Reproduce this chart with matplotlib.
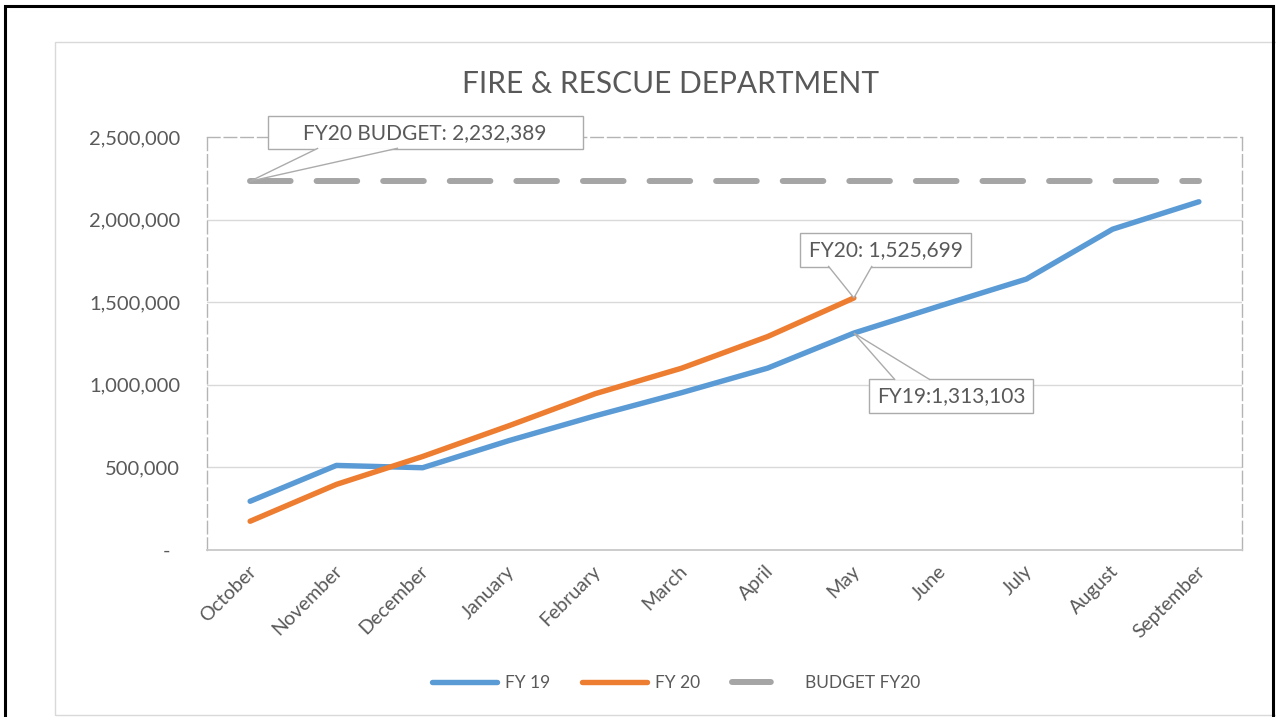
import matplotlib
matplotlib.use('Agg')
import matplotlib.pyplot as plt
from matplotlib.patches import Rectangle, Polygon
from matplotlib.lines import Line2D
from matplotlib import transforms as mtransforms
from matplotlib.ticker import FuncFormatter

# ---------------- data ----------------
months = ['October', 'November', 'December', 'January', 'February', 'March',
          'April', 'May', 'June', 'July', 'August', 'September']
fy19 = [295000, 512000, 498000, 662000, 812000, 952000,
        1101000, 1313103, 1478000, 1640000, 1942000, 2108000]
fy20 = [174000, 397000, 566000, 752000, 946000, 1100000, 1292000, 1525699]
budget_fy20 = 2232389
yticks = [0, 500000, 1000000, 1500000, 2000000, 2500000]
title = 'FIRE & RESCUE DEPARTMENT'
legend_labels = ['FY 19', 'FY 20', 'BUDGET FY20']
label_budget = 'FY20 BUDGET: 2,232,389'
label_fy20 = 'FY20: 1,525,699'
label_fy19 = 'FY19:1,313,103'

# ---------------- style ----------------
BLUE = '#5B9BD5'
ORANGE = '#ED7D31'
GRAY = '#A5A5A5'
TXT = '#595959'
GRID = '#D9D9D9'
EDGE = '#ABABAB'

plt.rcParams['font.family'] = ['Lato', 'DejaVu Sans']

W, H = 1276, 717
fig = plt.figure(figsize=(W / 100, H / 100), dpi=100)
fig.patch.set_facecolor('white')

# outer frames
fig.patches.append(Rectangle((55 / W, 2 / H), (1300 - 55) / W, (715 - 42) / H,
                             transform=fig.transFigure, fill=False,
                             ec=GRID, lw=1.0, zorder=0))
fig.patches.append(Rectangle((5 / W, -0.03), (1273 - 5) / W, 1 - 6 / H + 0.03,
                             transform=fig.transFigure, fill=False,
                             ec='black', lw=2.2, zorder=10))

ax = fig.add_axes([207 / W, 1 - 550 / H, (1242 - 207) / W, (550 - 137) / H])
x = list(range(len(months)))

# gridlines (not at top, where the dashed border sits)
for yv in yticks[1:-1]:
    ax.axhline(yv, color=GRID, lw=1.0, zorder=1)

ax.plot(x, fy19, color=BLUE, lw=3.9, solid_capstyle='round',
        solid_joinstyle='round', zorder=3)
ax.plot(x[:len(fy20)], fy20, color=ORANGE, lw=3.9, solid_capstyle='round',
        solid_joinstyle='round', zorder=4)
bl, = ax.plot(x, [budget_fy20] * len(months), color=GRAY, lw=4.3,
              dash_capstyle='round', zorder=2)
bl.set_dashes((6.8, 4.35))

ax.set_xlim(-0.5, len(months) - 0.5)
ax.set_ylim(yticks[0], yticks[-1])
ax.set_yticks(yticks)
ax.yaxis.set_major_formatter(FuncFormatter(lambda v, p: '-' if v == 0 else f'{int(v):,}'))
ax.set_xticks(x)
ax.set_xticklabels(months, rotation=45, ha='right', va='top', rotation_mode='anchor')
ax.tick_params(axis='y', length=0, pad=19.4, labelsize=14.5, labelcolor=TXT)
ax.tick_params(axis='x', length=0, pad=9, labelsize=14, labelcolor=TXT)
for lbl in ax.get_xticklabels():
    lbl.set_transform(lbl.get_transform() +
                      mtransforms.ScaledTranslation(-3 / 100, 0, fig.dpi_scale_trans))

# shift the "-" label like the accounting format
t0 = ax.yaxis.get_major_ticks()[0]
t0.label1.set_transform(t0.label1.get_transform() +
                        mtransforms.ScaledTranslation(-10 / 100, 0, fig.dpi_scale_trans))

for s in ['left', 'top', 'right']:
    ax.spines[s].set_linestyle((0, (9, 3)))
    ax.spines[s].set_color('#B4B4B4')
    ax.spines[s].set_linewidth(1.0)
ax.spines['bottom'].set_color('#C8C8C8')
ax.spines['bottom'].set_linewidth(1.3)


def callout(xd, yd, text, rect, text_xy, base, fs=15):
    """rect/text_xy/base are offsets in points relative to the data point."""
    trans = (mtransforms.Affine2D().scale(1 / 72) + fig.dpi_scale_trans +
             mtransforms.ScaledTranslation(xd, yd, ax.transData))
    x0, y0, w, h = rect
    ax.add_patch(Rectangle((x0, y0), w, h, transform=trans, fc='white', ec=EDGE,
                           lw=1.0, zorder=6, clip_on=False))
    bx0, bx1, by = base
    ax.add_patch(Polygon([(bx0, by), (0, 0), (bx1, by)], closed=False, transform=trans,
                         fc='white', ec=EDGE, lw=1.0, zorder=7, clip_on=False))
    ax.text(text_xy[0], text_xy[1], text, transform=trans, ha='center', va='center',
            fontsize=fs, color=TXT, zorder=8, clip_on=False)


callout(0, budget_fy20, label_budget, (13.0, 23.0, 226.8, 23.8), (125.6, 34.6),
        (49.0, 106.5, 23.8))
callout(7, fy20[7], label_fy20, (-38.7, 22.3, 123.1, 24.5), (23.2, 34.4),
        (-18.5, 13.1, 23.1))
callout(7, fy19[7], label_fy19, (10.9, -57.4, 118.1, 24.5), (70.0, -45.2),
        (29.7, 55.0, -33.7))

# title
fig.text(671 / W, 1 - 93.3 / H, title, ha='center', va='baseline', fontsize=21.5, color=TXT)

# legend
handles = [
    Line2D([], [], color=BLUE, lw=3.9, solid_capstyle='round'),
    Line2D([], [], color=ORANGE, lw=3.9, solid_capstyle='round'),
    Line2D([], [], color=GRAY, lw=4.3, dash_capstyle='round', dashes=(6.5, 20)),
]
leg = fig.legend(handles, legend_labels, loc='center', ncol=3, frameon=False,
                 bbox_to_anchor=(676 / W, 1 - 683 / H), fontsize=12.5,
                 handlelength=3.74, handletextpad=0.45, columnspacing=1.85,
                 labelcolor=TXT)

fig.savefig('out.png', dpi=100)
